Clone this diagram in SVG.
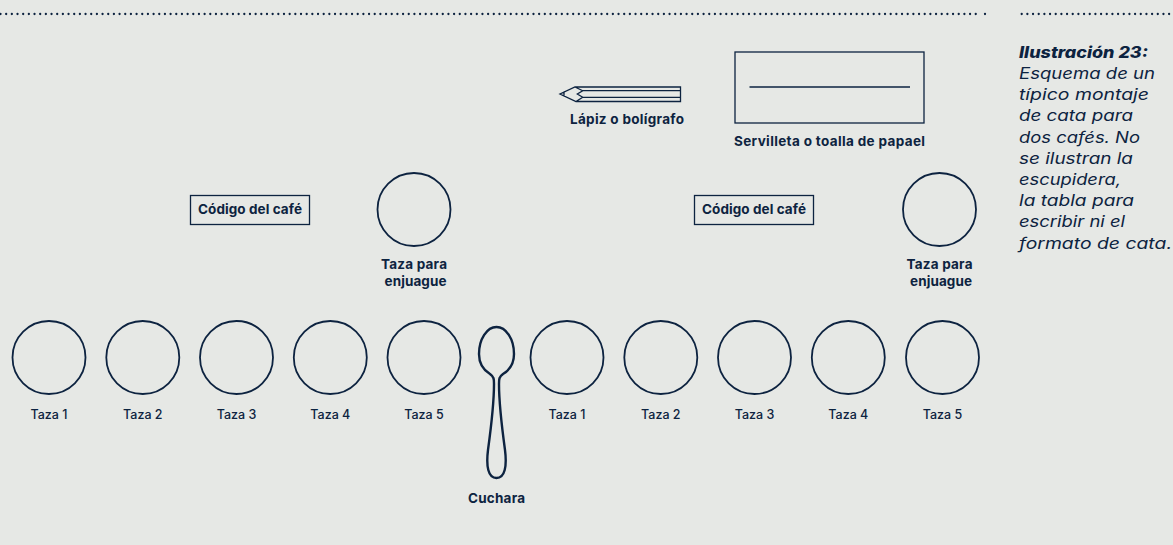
<svg xmlns="http://www.w3.org/2000/svg" width="1173" height="545" viewBox="0 0 1173 545">
<style>
.s{fill:none;stroke:#0d2340;stroke-width:1.3}
.c{fill:none;stroke:#0d2340;stroke-width:1.8}
.d{fill:none;stroke:#0d2340;stroke-width:2.300;stroke-linecap:round;stroke-dasharray:0 5.670}
text{font-family:"Inter","Liberation Sans",sans-serif;fill:#0d2340;font-size:13.500px;font-weight:700}
.t{font-weight:500;text-anchor:middle;font-size:12.500px}
.b{text-anchor:middle}
.cap{font-size:15.500px;font-style:italic;font-weight:400}
</style>
<rect width="1173" height="545" fill="#e6e8e5"/>
<g id="rules"><path class="d" d="M0.500 14H979M985 14H986"/><path class="d" d="M1021.700 14H1173"/></g>
<g id="connectors"/>
<g id="pencil"><path class="s" d="M680.500 87H575L560 94L576 101.500H680.500ZM575 87L582.700 90.700L577.300 94L582.700 97.300L576 101.500M582.700 90.700H680.500M582.700 97.300H680.500M560 94L564 92V96Z"/><text class="b" x="627" y="124" textLength="114">Lápiz o bolígrafo</text></g>
<g id="napkin"><rect class="s" x="735" y="52" width="189" height="71"/><path class="s" d="M749.500 87H910"/><text class="b" x="829.500" y="146" textLength="191">Servilleta o toalla de papael</text></g>
<g id="code1"><rect class="s" x="190.500" y="195.500" width="119" height="29"/><text class="b" x="250" y="214" textLength="104">Código del café</text></g>
<g id="code2"><rect class="s" x="694.500" y="195.500" width="119" height="29"/><text class="b" x="754" y="214" textLength="104">Código del café</text></g>
<g id="rinse1"><circle class="c" cx="414" cy="209.500" r="36.500"/><text class="b" x="414" y="269" textLength="66">Taza para</text><text class="b" x="415.500" y="286" textLength="62">enjuague</text></g>
<g id="rinse2"><circle class="c" cx="939.500" cy="209.500" r="36.500"/><text class="b" x="939.500" y="269" textLength="66">Taza para</text><text class="b" x="941" y="286" textLength="62">enjuague</text></g>
<g id="cup-a1"><circle class="c" cx="49" cy="357.500" r="36.500"/><text class="t" x="49" y="419">Taza 1</text></g>
<g id="cup-a2"><circle class="c" cx="142.800" cy="357.500" r="36.500"/><text class="t" x="142.800" y="419">Taza 2</text></g>
<g id="cup-a3"><circle class="c" cx="236.500" cy="357.500" r="36.500"/><text class="t" x="236.500" y="419">Taza 3</text></g>
<g id="cup-a4"><circle class="c" cx="330.300" cy="357.500" r="36.500"/><text class="t" x="330.300" y="419">Taza 4</text></g>
<g id="cup-a5"><circle class="c" cx="424" cy="357.500" r="36.500"/><text class="t" x="424" y="419">Taza 5</text></g>
<g id="spoon"><path fill="none" stroke="#0d2340" stroke-width="2.400" d="M496.500 327C506 327 514 339 514 354C514 365 508 371 503 374C499 377 499 379 499 384C499 400 502 428 505 450C507 466 505 478 496.500 478C488 478 486 466 488 450C491 428 494 400 494 384C494 379 494 377 490 374C485 371 479 365 479 354C479 339 487 327 496.500 327Z"/><text class="b" x="496.500" y="503" textLength="57">Cuchara</text></g>
<g id="cup-b1"><circle class="c" cx="567" cy="357.500" r="36.500"/><text class="t" x="567" y="419">Taza 1</text></g>
<g id="cup-b2"><circle class="c" cx="660.800" cy="357.500" r="36.500"/><text class="t" x="660.800" y="419">Taza 2</text></g>
<g id="cup-b3"><circle class="c" cx="754.500" cy="357.500" r="36.500"/><text class="t" x="754.500" y="419">Taza 3</text></g>
<g id="cup-b4"><circle class="c" cx="848.300" cy="357.500" r="36.500"/><text class="t" x="848.300" y="419">Taza 4</text></g>
<g id="cup-b5"><circle class="c" cx="942.500" cy="357.500" r="36.500"/><text class="t" x="942.500" y="419">Taza 5</text></g>
<g id="caption"><text class="cap" x="1019" y="58" style="font-weight:800" textLength="129" lengthAdjust="spacingAndGlyphs">Ilustración 23:</text>
<text class="cap" x="1019" y="79" textLength="136" lengthAdjust="spacingAndGlyphs">Esquema de un</text>
<text class="cap" x="1019" y="100" textLength="130" lengthAdjust="spacingAndGlyphs">típico montaje</text>
<text class="cap" x="1019" y="121" textLength="114" lengthAdjust="spacingAndGlyphs">de cata para</text>
<text class="cap" x="1019" y="143" textLength="121" lengthAdjust="spacingAndGlyphs">dos cafés. No</text>
<text class="cap" x="1019" y="164" textLength="114" lengthAdjust="spacingAndGlyphs">se ilustran la</text>
<text class="cap" x="1019" y="185" textLength="102" lengthAdjust="spacingAndGlyphs">escupidera,</text>
<text class="cap" x="1019" y="206" textLength="115" lengthAdjust="spacingAndGlyphs">la tabla para</text>
<text class="cap" x="1019" y="227" textLength="106" lengthAdjust="spacingAndGlyphs">escribir ni el</text>
<text class="cap" x="1019" y="249" textLength="153" lengthAdjust="spacingAndGlyphs">formato de cata.</text></g>
</svg>
